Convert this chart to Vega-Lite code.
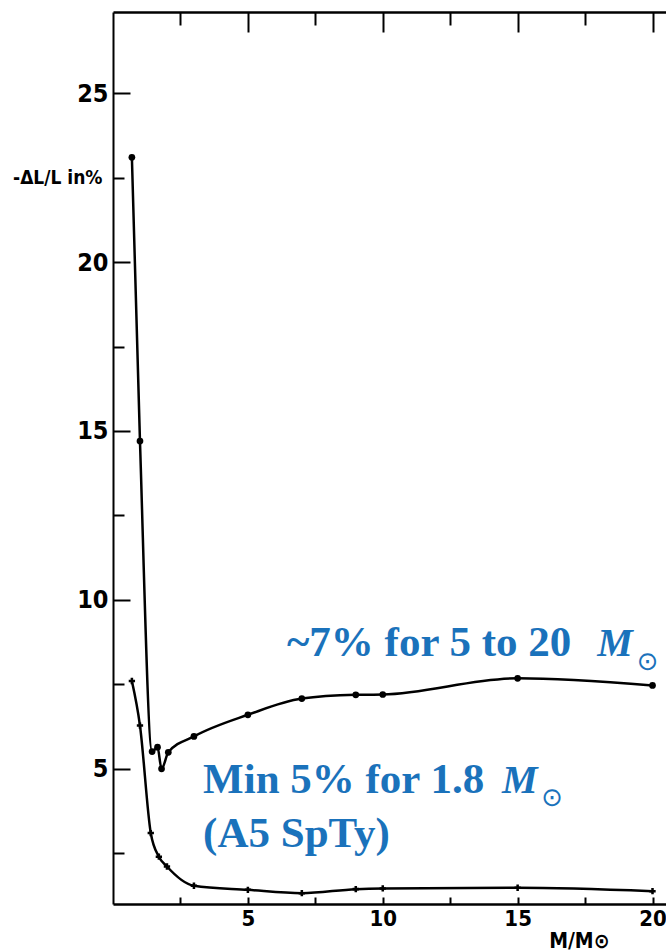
{
  "$schema": "https://vega.github.io/schema/vega-lite/v6.json",
  "autosize": "none",
  "width": 553,
  "height": 892,
  "padding": {"left": 113, "top": 12, "right": 0, "bottom": 48},
  "background": "white",
  "config": {"view": {"stroke": null}},
  "datasets": {
    "curves": [
      {"mass": 0.7, "dl": 23.1, "series": "upper"},
      {"mass": 1.0, "dl": 14.7, "series": "upper"},
      {"mass": 1.45, "dl": 5.51, "series": "upper"},
      {"mass": 1.65, "dl": 5.64, "series": "upper"},
      {"mass": 1.8, "dl": 5.0, "series": "upper"},
      {"mass": 2.05, "dl": 5.49, "series": "upper"},
      {"mass": 3.0, "dl": 5.96, "series": "upper"},
      {"mass": 5.0, "dl": 6.6, "series": "upper"},
      {"mass": 7.0, "dl": 7.08, "series": "upper"},
      {"mass": 9.0, "dl": 7.19, "series": "upper"},
      {"mass": 10.0, "dl": 7.2, "series": "upper"},
      {"mass": 15.0, "dl": 7.68, "series": "upper"},
      {"mass": 20.0, "dl": 7.47, "series": "upper"},
      {"mass": 0.7, "dl": 7.6, "series": "lower"},
      {"mass": 1.0, "dl": 6.28, "series": "lower"},
      {"mass": 1.4, "dl": 3.1, "series": "lower"},
      {"mass": 1.7, "dl": 2.4, "series": "lower"},
      {"mass": 2.0, "dl": 2.11, "series": "lower"},
      {"mass": 3.0, "dl": 1.54, "series": "lower"},
      {"mass": 5.0, "dl": 1.42, "series": "lower"},
      {"mass": 7.0, "dl": 1.32, "series": "lower"},
      {"mass": 9.0, "dl": 1.44, "series": "lower"},
      {"mass": 10.0, "dl": 1.46, "series": "lower"},
      {"mass": 15.0, "dl": 1.48, "series": "lower"},
      {"mass": 20.0, "dl": 1.38, "series": "lower"}
    ],
    "notes": [
      {"mass": 6.45, "dl": 8.34, "t": "~7% for 5 to 20"},
      {"mass": 3.34, "dl": 4.29, "t": "Min 5% for 1.8"},
      {"mass": 3.34, "dl": 2.69, "t": "(A5 SpTy)"}
    ],
    "msym": [
      {"mass": 17.95, "dl": 8.34, "t": "M"},
      {"mass": 14.42, "dl": 4.29, "t": "M"}
    ],
    "sun": [
      {"mass": 19.42, "dl": 7.93, "t": "⊙"},
      {"mass": 15.88, "dl": 3.9, "t": "⊙"}
    ]
  },
  "encoding": {
    "y": {
      "field": "dl",
      "type": "quantitative",
      "scale": {"domain": [1, 27.4], "nice": false, "zero": false},
      "axis": {
        "orient": "left",
        "title": null,
        "grid": false,
        "values": [2.5, 5, 7.5, 10, 12.5, 15, 17.5, 20, 22.5, 25],
        "domainColor": "black",
        "domainWidth": 2,
        "tickColor": "black",
        "tickWidth": 2,
        "tickSize": {"condition": {"test": "datum.value % 5 === 0", "value": -17}, "value": -11},
        "labelPadding": 22,
        "labelFont": "Liberation Sans Narrow, DejaVu Sans Condensed, sans-serif",
        "labelFontWeight": "bold",
        "labelFontSize": {"condition": {"test": "datum.value === 22.5", "value": 19}, "value": 25},
        "labelColor": "black",
        "labelExpr": "datum.value === 22.5 ? '-ΔL/L in%' : (datum.value % 5 === 0 ? datum.label : '')"
      }
    }
  },
  "layer": [
    {
      "data": {"name": "curves"},
      "transform": [{"filter": "datum.series === 'upper'"}],
      "mark": {"type": "line", "interpolate": "monotone", "color": "black", "strokeWidth": 2.5,
               "point": {"filled": true, "color": "black", "size": 45, "shape": "circle"}},
      "encoding": {
        "x": {
          "field": "mass", "type": "quantitative",
          "scale": {"domain": [0, 20.5], "nice": false, "zero": false},
          "axis": {
            "orient": "bottom",
            "title": "M/M⊙",
            "titleFont": "Liberation Sans Narrow, DejaVu Sans Condensed, sans-serif",
            "titleFontSize": 21,
            "titleFontWeight": "bold",
            "titleColor": "black",
            "titleAnchor": "end",
            "titleAlign": "right",
            "titleBaseline": "alphabetic",
            "titleX": 496,
            "titleY": 43,
            "grid": false,
            "values": [2.5, 5, 7.5, 10, 12.5, 15, 17.5, 20],
            "domainColor": "black",
            "domainWidth": 2.5,
            "tickColor": "black",
            "tickWidth": 2,
            "tickSize": -7,
            "labelPadding": 11,
            "labelFont": "Liberation Sans Narrow, DejaVu Sans Condensed, sans-serif",
            "labelFontWeight": "bold",
            "labelFontSize": 22,
            "labelColor": "black",
            "labelExpr": "datum.value % 5 === 0 ? datum.label : ''"
          }
        }
      }
    },
    {
      "data": {"name": "curves"},
      "transform": [{"filter": "datum.series === 'lower'"}],
      "mark": {"type": "line", "interpolate": "monotone", "color": "black", "strokeWidth": 2.5,
               "point": {"filled": true, "color": "black", "size": 40, "shape": "cross"}},
      "encoding": {
        "x": {
          "field": "mass", "type": "quantitative",
          "scale": {"domain": [0, 20.5], "nice": false, "zero": false},
          "axis": {
            "orient": "top",
            "title": null,
            "grid": false,
            "labels": false,
            "values": [2.5, 5, 7.5, 10, 12.5, 15, 17.5, 20],
            "domainColor": "black",
            "domainWidth": 2.5,
            "tickColor": "black",
            "tickWidth": 2,
            "tickSize": {"condition": {"test": "datum.value % 5 === 0", "value": -20}, "value": -13}
          }
        }
      }
    },
    {
      "data": {"name": "notes"},
      "mark": {"type": "text", "align": "left", "baseline": "alphabetic", "font": "Liberation Serif", "fontWeight": "bold", "fontSize": 43, "color": "#1a72bb"},
      "encoding": {
        "x": {"field": "mass", "type": "quantitative", "axis": null},
        "text": {"field": "t"}
      }
    },
    {
      "data": {"name": "msym"},
      "mark": {"type": "text", "align": "left", "baseline": "alphabetic", "font": "Liberation Serif", "fontWeight": "bold", "fontStyle": "italic", "fontSize": 40, "color": "#1a72bb"},
      "encoding": {
        "x": {"field": "mass", "type": "quantitative", "axis": null},
        "text": {"field": "t"}
      }
    },
    {
      "data": {"name": "sun"},
      "mark": {"type": "text", "align": "left", "baseline": "alphabetic", "font": "DejaVu Sans", "fontSize": 26, "color": "#1a72bb"},
      "encoding": {
        "x": {"field": "mass", "type": "quantitative", "axis": null},
        "text": {"field": "t"}
      }
    }
  ],
  "resolve": {"axis": {"x": "independent"}}
}
